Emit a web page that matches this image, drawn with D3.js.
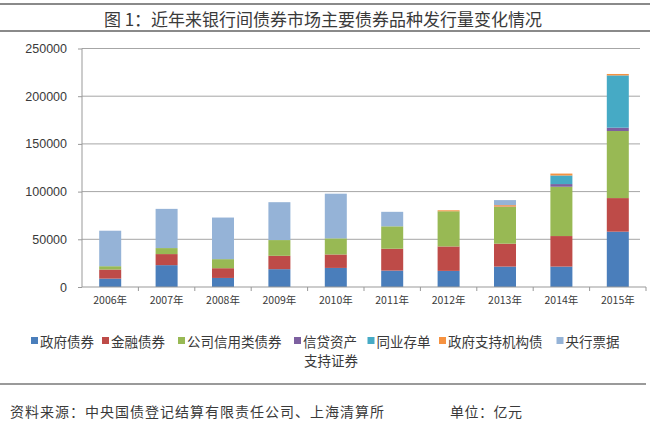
<!DOCTYPE html>
<html><head><meta charset="utf-8">
<script src="https://cdn.jsdelivr.net/npm/d3@7"></script>
<style>body{margin:0;background:#fff;} svg{display:block;}</style>
</head><body>
<svg id="c" width="650" height="431"></svg>
<script>
const years = ["2006年","2007年","2008年","2009年","2010年","2011年","2012年","2013年","2014年","2015年"];
const seriesNames = ["政府债券","金融债券","公司信用类债券","信贷资产支持证券","同业存单","政府支持机构债","央行票据"];
const govBonds   = [8800, 22900, 9500, 18700, 20000, 17200, 16900, 21400, 21400, 58000];
const finBonds   = [9500, 11600, 10200, 14000, 14100, 22900, 25600, 24000, 32000, 35200];
const corpBonds  = [3500, 6300, 9500, 16500, 16900, 23500, 36900, 38600, 51700, 70300];
const absBonds   = [0, 0, 0, 0, 0, 0, 0, 300, 2800, 3500];
const ncdBonds   = [0, 0, 0, 0, 0, 0, 0, 0, 9000, 54800];
const agencyBonds= [0, 0, 0, 0, 0, 0, 1000, 1500, 2000, 1500];
const cbBills    = [37200, 41100, 43600, 39700, 46800, 15200, 0, 5300, 0, 0];
const yTicks = [0, 50000, 100000, 150000, 200000, 250000];
const colors = ["#4a7ebb","#be4b48","#98b954","#7d60a0","#46aac5","#f69240","#95b3d7"];

(function(){
const svg = d3.select("#c");
const cjk = "'Noto Sans CJK SC', sans-serif";
const lat = "'Liberation Sans', Arial, sans-serif";

svg.append("line").attr("x1",0).attr("x2",650).attr("y1",4).attr("y2",4).attr("stroke","#8a8a8a").attr("stroke-width",2);
svg.append("line").attr("x1",0).attr("x2",650).attr("y1",31).attr("y2",31).attr("stroke","#8a8a8a").attr("stroke-width",2);
svg.append("text").attr("x",323).attr("y",18).attr("text-anchor","middle").attr("dominant-baseline","central")
  .attr("font-family",cjk).attr("font-size",17).attr("fill","#3a3a3a").text("图 1：近年来银行间债券市场主要债券品种发行量变化情况");

const pl = 82, pr = 646, pb = 287;
const x = d3.scaleBand().domain(years).range([pl, pr]).padding(0);
const y = d3.scaleLinear().domain([0, 250000]).range([pb, 48.5]);

svg.append("g").selectAll("line").data(yTicks.filter(d=>d>0)).join("line")
  .attr("x1",pl).attr("x2",640).attr("y1",d=>y(d)).attr("y2",d=>y(d))
  .attr("stroke","#a6a6a6").attr("stroke-width",1);

const table = years.map((yr,i)=>({year:yr, s0:govBonds[i], s1:finBonds[i], s2:corpBonds[i], s3:absBonds[i], s4:ncdBonds[i], s5:agencyBonds[i], s6:cbBills[i]}));
const keys = ["s0","s1","s2","s3","s4","s5","s6"];
const stacked = d3.stack().keys(keys)(table);
const bw = 22;
svg.append("g").selectAll("g").data(stacked).join("g").attr("fill",(d,i)=>colors[i])
  .selectAll("rect").data(d=>d).join("rect")
  .attr("x",d=>x(d.data.year)+x.bandwidth()/2-bw/2).attr("width",bw)
  .attr("y",d=>y(d[1])).attr("height",d=>Math.max(0,y(d[0])-y(d[1])));

const ya = svg.append("g").attr("transform",`translate(${pl},0)`)
  .call(d3.axisLeft(y).tickValues(yTicks).tickSize(4).tickPadding(11).tickFormat(d3.format("d")));
ya.select(".domain").attr("stroke","#999").attr("d",`M0,${y(250000)}V${pb}`);
ya.selectAll(".tick line").attr("stroke","#999");
ya.selectAll("text").attr("font-family",lat).attr("font-size",12.5).attr("fill","#3a3a3a");

const xa = svg.append("g").attr("transform",`translate(0,${pb})`)
  .call(d3.axisBottom(x).tickSize(0).tickPadding(10));
xa.select(".domain").attr("stroke","#999").attr("d",`M${pl},0H${pr}`);
xa.selectAll("text").attr("font-family",cjk).attr("font-size",10.5).attr("fill","#3a3a3a");
svg.append("g").selectAll("line").data(d3.range(1, years.length+1)).join("line")
  .attr("x1",i=>pl+x.step()*i).attr("x2",i=>pl+x.step()*i)
  .attr("y1",pb).attr("y2",pb+4).attr("stroke","#999");

const legX = [31,102,178,294,367.5,439,556.5];
const lg = svg.append("g");
seriesNames.forEach((n,i)=>{
  lg.append("rect").attr("x",legX[i]).attr("y",337).attr("width",7).attr("height",7).attr("fill",colors[i]);
  const label = i===3 ? "信贷资产" : n;
  lg.append("text").attr("x",legX[i]+9).attr("y",341).attr("dominant-baseline","central")
    .attr("font-family",cjk).attr("font-size",13.5).attr("fill","#3a3a3a").text(label);
  if(i===3){
    lg.append("text").attr("x",legX[i]+10).attr("y",360).attr("dominant-baseline","central")
      .attr("font-family",cjk).attr("font-size",13.5).attr("fill","#3a3a3a").text("支持证券");
  }
});

svg.append("line").attr("x1",0).attr("x2",646).attr("y1",384).attr("y2",384).attr("stroke","#9a9a9a").attr("stroke-width",2);
svg.append("text").attr("x",10).attr("y",411).attr("dominant-baseline","central").attr("font-family",cjk)
  .attr("font-size",14).attr("letter-spacing",1).attr("fill","#3a3a3a").text("资料来源：中央国债登记结算有限责任公司、上海清算所");
svg.append("text").attr("x",450).attr("y",411).attr("dominant-baseline","central").attr("font-family",cjk)
  .attr("font-size",14).attr("letter-spacing",0.5).attr("fill","#3a3a3a").text("单位：亿元");
})();
</script>
</body></html>
